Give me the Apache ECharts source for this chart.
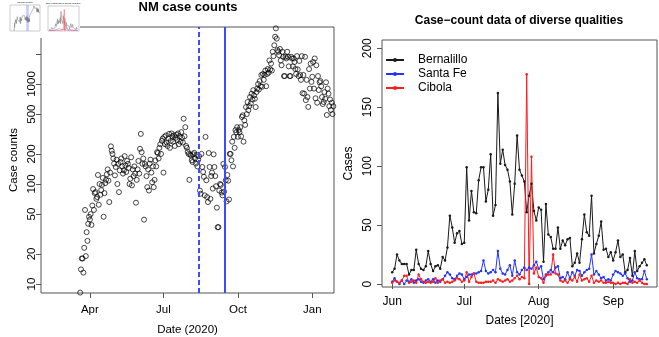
<!DOCTYPE html>
<html>
<head>
<meta charset="utf-8">
<script src="https://cdn.jsdelivr.net/npm/echarts@6/dist/echarts.min.js"></script>
<style>
html, body { margin: 0; padding: 0; background: #fff; }
#main { width: 659px; height: 337px; }
</style>
</head>
<body>
<div id="main"></div>
<script>
// NM statewide daily counts, one value per day from nmStart
var nmStart = '2020-03-20';
var nmCases = [
  8.2, 14, 18, 18, 13, 23, 55, 19, 33, 27, 40, 47,
  // Apr
  44, 50, 39, 61, 89, 55, 81, 83, 71, 74, 123, 62, 100, 78, 87, 98, 115, 47, 81, 102,
  110, 125, 140, 108, 66, 130, 238, 215, 200, 180,
  // May
  160, 122, 148, 175, 100, 159, 83, 137, 166, 180, 150, 127, 137, 190, 153, 132, 170, 159, 145, 100,
  113, 185, 97, 140, 120, 150, 127, 65, 110, 140, 170,
  // Jun
  127, 225, 317, 208, 159, 180, 44, 159, 150, 120, 93, 140, 86, 160, 175, 130, 104, 150, 93, 110,
  172, 150, 208, 204, 180, 230, 250, 200, 270, 284,
  // Jul
  130, 296, 250, 306, 260, 240, 284, 317, 230, 270, 320, 300, 265, 306, 240, 290, 310, 275, 320, 250,
  300, 265, 330, 290, 260, 450, 300, 370, 240, 230, 210,
  // Aug
  200, 110, 198, 192, 173, 166, 198, 205, 180, 160, 195, 150, 175, 190, 86, 80, 200, 148, 132, 118,
  77, 296, 109, 74, 66, 204, 148, 71, 120, 130, 90,
  // Sep
  198, 148, 120, 95, 58, 37, 37, 86, 100, 98, 82, 77, 159, 84, 148, 109, 67, 123, 108, 70,
  200, 200, 173, 265, 150, 296, 230, 346, 329, 370,
  // Oct
  296, 346, 329, 370, 300, 468, 486, 265, 433, 390, 588, 500, 659, 547, 600, 740, 640, 799, 700, 867,
  768, 712, 588, 830, 900, 1000, 880, 1069, 950, 1231, 939,
  // Nov
  1259, 1100, 1231, 1363, 950, 1259, 1410, 1300, 1720, 1400, 1600, 1363, 2100, 1900, 2440, 2970, 3600, 2840, 2180, 2100,
  1940, 2240, 1720, 1540, 2100, 1870, 1200, 1200, 1870, 1800,
  // Dec
  2100, 1870, 1500, 1200, 1200, 1870, 1800, 1500, 1800, 1660, 1410, 1260, 1900, 1400, 1200, 1700, 1230, 1100, 1900, 810,
  1230, 800, 1870, 690, 1100, 740, 590, 1410, 900, 1600, 1050,
  // Jan 2021
  1180, 1660, 900, 1800, 720, 1540, 650, 1200, 870, 1040, 1070, 950, 740, 630, 660, 830, 712, 1040, 490, 900,
  800, 600, 700, 550, 650, 500, 600
];
var nmDashedDate = '2020-08-14';
var nmSolidDate = '2020-09-15';
var nmYTicks = [10, 20, 50, 100, 200, 500, 1000, 2000];
var nmYLabels = [10, 20, 50, 100, 200, 500, 1000];
var nmXTicks = ['2020-04-01', '2020-07-01', '2020-10-01', '2021-01-01'];
var nmXLabels = ['Apr', 'Jul', 'Oct', 'Jan'];

// county daily counts, one value per day from countyStart
var countyStart = '2020-06-01';
var bernalillo = [
  10, 13, 25, 20, 17, 17, 17, 8, 12, 12,
  29, 17, 13, 12, 15, 28, 17, 11, 15, 16,
  13, 23, 20, 31, 58, 48, 35, 43, 45, 34,
  35, 99, 54, 79, 61, 60, 88, 99, 99, 70,
  80, 110, 58, 67, 162, 102, 114, 101, 97, 87,
  59, 85, 126, 97, 92, 87, 61, 75, 85, 62,
  54, 65, 63, 19, 68, 42, 40, 30, 30, 48,
  30, 37, 33, 38, 39, 15, 18, 26, 18, 38,
  59, 44, 41, 75, 26, 34, 41, 53, 29, 30,
  23, 27, 20, 27, 37, 23, 25, 10, 12, 22,
  7, 28, 11, 15, 18, 21, 16
];
var santaFe = [
  2, 5, 2, 0, 3, 0, 3, 2, 4, 1,
  3, 4, 2, 1, 3, 4, 2, 4, 1, 3,
  2, 4, 7, 10, 8, 5, 4, 7, 9, 8,
  4, 6, 8, 8, 9, 9, 10, 11, 20, 11,
  9, 10, 12, 10, 28, 13, 9, 8, 12, 16,
  7, 20, 10, 8, 12, 14, 12, 14, 13, 16,
  19, 13, 15, 4, 8, 10, 12, 10, 14, 15,
  5, 6, 4, 10, 5, 10, 7, 12, 11, 7,
  10, 12, 13, 25, 8, 11, 8, 5, 6, 3,
  4, 3, 8, 11, 10, 9, 7, 9, 5, 2,
  3, 10, 5, 4, 4, 11, 4
];
var cibola = [
  1, 3, 2, 1, 3, 7, 7, 1, 2, 3,
  1, 8, 4, 2, 1, 2, 1, 2, 5, 1,
  3, 4, 1, 2, 1, 2, 3, 5, 4, 2,
  3, 10, 2, 6, 9, 2, 1, 1, 1, 2,
  2, 2, 3, 1, 4, 3, 2, 3, 4, 2,
  3, 5, 7, 4, 6, 5, 178, 0, 108, 9,
  14, 6, 5, 1, 7, 8, 8, 25, 9, 8,
  3, 2, 3, 1, 4, 3, 6, 2, 8, 3,
  4, 5, 2, 7, 1, 3, 2, 3, 1, 1,
  2, 1, 1, 0, 1, 0, 1, 1, 0, 4,
  1, 2, 1, 3, 1, 0, 0
];
var countyXTicks = ['2020-06-01', '2020-07-01', '2020-08-01', '2020-09-01'];
var countyXLabels = ['Jun', 'Jul', 'Aug', 'Sep'];
var countyYTicks = [0, 50, 100, 150, 200];

var DAY = 86400000;
function toTime(s) { return Date.parse(s.length > 10 ? s : s + 'T00:00:00Z'); }
function daily(start, values) {
  var t0 = toTime(start);
  return values.map(function (v, i) { return [t0 + i * DAY, v]; });
}
function nearestLabel(ticks, labels) {
  var times = ticks.map(toTime);
  return function (v) {
    var best = 0;
    for (var i = 1; i < times.length; i++) {
      if (Math.abs(times[i] - v) < Math.abs(times[best] - v)) best = i;
    }
    return labels[best];
  };
}

var font = 'Liberation Sans, Arial, sans-serif';
var axisGrey = '#555';
var nmMin = 8.13, nmMax = 3715;
var nmRange = ['2020-01-31T14:00:00Z', '2021-01-27T20:00:00Z'];
var countyRange = ['2020-05-27T18:00:00Z', '2020-09-19T06:00:00Z'];

var nmData = daily(nmStart, nmCases);
var bData = daily(countyStart, bernalillo);
var sData = daily(countyStart, santaFe);
var cData = daily(countyStart, cibola);
var vLineColor = '#3b4cff';

var myChart = echarts.init(document.getElementById('main'), null, { renderer: 'canvas' });

var option = {
  animation: false,
  backgroundColor: '#fff',
  textStyle: { fontFamily: font },
  graphic: [
    { type: 'text', x: 188, y: 7, style: { text: 'NM case counts', align: 'center', verticalAlign: 'middle', font: 'bold 13px ' + font, fill: '#000' } },
    { type: 'text', x: 519, y: 21, style: { text: 'Case\u2212count data of diverse qualities', align: 'center', verticalAlign: 'middle', font: 'bold 12px ' + font, fill: '#000' } },
    // thumbnail backing and its tiny titles
    { type: 'rect', shape: { x: 0, y: 0, width: 80, height: 38 }, style: { fill: '#fff' }, z: 1 },
    { type: 'text', x: 25, y: 2, z: 5, style: { text: 'NM case counts', align: 'center', verticalAlign: 'middle', font: 'bold 2px ' + font, fill: '#444' } },
    { type: 'text', x: 63, y: 3, z: 5, style: { text: 'Case\u2212count data of diverse qualities', align: 'center', verticalAlign: 'middle', font: 'bold 2px ' + font, fill: '#444' } }
  ],
  legend: {
    orient: 'vertical',
    left: 380,
    top: 48,
    itemWidth: 18,
    itemHeight: 5,
    itemGap: 0,
    textStyle: { fontSize: 12, color: '#000', lineHeight: 14, padding: [0, 0, 0, 9] },
    data: ['Bernalillo', 'Santa Fe', 'Cibola']
  },
  grid: [
    { left: 41, top: 27, width: 293, height: 266, show: true, borderColor: axisGrey, borderWidth: 1, containLabel: false, outerBoundsMode: 'none' },
    { left: 382, top: 40, width: 275, height: 247, show: true, borderColor: axisGrey, borderWidth: 1, containLabel: false, outerBoundsMode: 'none' },
    { left: 10, top: 5, width: 30, height: 26, show: true, borderColor: '#999', borderWidth: 0.5, z: 3, outerBoundsMode: 'none' },
    { left: 48, top: 6, width: 31, height: 25, show: true, borderColor: '#999', borderWidth: 0.5, z: 3, outerBoundsMode: 'none' }
  ],
  xAxis: [
    {
      type: 'value', gridIndex: 0, min: toTime(nmRange[0]), max: toTime(nmRange[1]),
      axisLine: { show: false },
      axisTick: { show: true, length: 5, lineStyle: { color: axisGrey }, customValues: nmXTicks.map(toTime) },
      axisLabel: { customValues: nmXTicks.map(toTime), formatter: nearestLabel(nmXTicks, nmXLabels), fontSize: 11.5, color: '#000', margin: 11 },
      splitLine: { show: false },
      name: 'Date (2020)', nameLocation: 'middle', nameGap: 31,
      nameTextStyle: { fontSize: 11.5, color: '#000' }
    },
    {
      type: 'value', gridIndex: 1, min: toTime(countyRange[0]), max: toTime(countyRange[1]),
      axisLine: { show: false },
      axisTick: { show: true, length: 5, lineStyle: { color: axisGrey }, customValues: countyXTicks.map(toTime) },
      axisLabel: { customValues: countyXTicks.map(toTime), formatter: nearestLabel(countyXTicks, countyXLabels), fontSize: 12, color: '#000', margin: 9 },
      splitLine: { show: false },
      name: 'Dates [2020]', nameLocation: 'middle', nameGap: 28,
      nameTextStyle: { fontSize: 12, color: '#000' }
    },
    { type: 'value', gridIndex: 2, min: toTime(nmRange[0]), max: toTime(nmRange[1]), show: false, splitLine: { show: false } },
    { type: 'value', gridIndex: 3, min: toTime(countyRange[0]), max: toTime(countyRange[1]), show: false, splitLine: { show: false } }
  ],
  yAxis: [
    // log scale that places the NM points
    { type: 'log', gridIndex: 0, position: 'right', min: nmMin, max: nmMax, show: false, splitLine: { show: false } },
    // ruler for the NM ticks, in log10 units over the same span
    {
      type: 'value', gridIndex: 0, position: 'left',
      min: Math.log10(nmMin), max: Math.log10(nmMax),
      axisLine: { show: false },
      axisTick: { show: true, length: 5, lineStyle: { color: axisGrey }, customValues: nmYTicks.map(Math.log10) },
      axisLabel: {
        customValues: nmYLabels.map(Math.log10), rotate: 90, margin: 3, fontSize: 11.5, color: '#000',
        formatter: function (v) { return String(Math.round(Math.pow(10, v))); }
      },
      splitLine: { show: false },
      name: 'Case counts', nameLocation: 'middle', nameGap: 21,
      nameTextStyle: { fontSize: 11.5, color: '#000' }
    },
    {
      type: 'value', gridIndex: 1, min: -2.5, max: 207,
      axisLine: { show: false },
      axisTick: { show: true, length: 5, lineStyle: { color: axisGrey }, customValues: countyYTicks },
      axisLabel: { customValues: countyYTicks, rotate: 90, margin: 8, fontSize: 12, color: '#000' },
      splitLine: { show: false },
      name: 'Cases', nameLocation: 'middle', nameGap: 27,
      nameTextStyle: { fontSize: 12, color: '#000' }
    },
    { type: 'log', gridIndex: 2, min: nmMin, max: nmMax, show: false, splitLine: { show: false } },
    { type: 'value', gridIndex: 3, min: -2.5, max: 207, show: false, splitLine: { show: false } }
  ],
  series: [
    {
      name: 'NM',
      type: 'scatter',
      xAxisIndex: 0, yAxisIndex: 0,
      symbol: 'circle', symbolSize: 5,
      itemStyle: { color: 'rgba(0,0,0,0)', borderColor: '#000', borderWidth: 0.9 },
      data: nmData,
      markLine: {
        silent: true, symbol: ['none', 'none'], label: { show: false },
        data: [
          { xAxis: toTime(nmDashedDate), lineStyle: { color: vLineColor, width: 2, type: [5, 3] } },
          { xAxis: toTime(nmSolidDate), lineStyle: { color: vLineColor, width: 2, type: 'solid' } }
        ]
      }
    },
    {
      name: 'Bernalillo', type: 'line', xAxisIndex: 1, yAxisIndex: 2,
      symbol: 'circle', symbolSize: 2.5, showAllSymbol: true,
      color: '#1a1a1a', lineStyle: { width: 1, color: '#1a1a1a' },
      data: bData
    },
    {
      name: 'Santa Fe', type: 'line', xAxisIndex: 1, yAxisIndex: 2,
      symbol: 'circle', symbolSize: 2.5, showAllSymbol: true,
      color: '#2233ff', lineStyle: { width: 1, color: '#2233ff' },
      data: sData
    },
    {
      name: 'Cibola', type: 'line', xAxisIndex: 1, yAxisIndex: 2,
      symbol: 'circle', symbolSize: 2.5, showAllSymbol: true,
      color: '#ff1a1a', lineStyle: { width: 1, color: '#ff1a1a' },
      data: cData
    },
    // thumbnail copies
    {
      name: 'mini NM', type: 'line', xAxisIndex: 2, yAxisIndex: 3, z: 4,
      symbol: 'none', lineStyle: { width: 0.5, color: '#777' }, data: nmData,
      markArea: {
        silent: true, itemStyle: { color: 'rgba(90,110,255,0.35)' },
        data: [[{ xAxis: toTime(nmDashedDate) }, { xAxis: toTime(nmSolidDate) }]]
      }
    },
    { name: 'mini B', type: 'line', xAxisIndex: 3, yAxisIndex: 4, z: 4, symbol: 'none', lineStyle: { width: 0.5, color: '#777' }, data: bData },
    { name: 'mini S', type: 'line', xAxisIndex: 3, yAxisIndex: 4, z: 4, symbol: 'none', lineStyle: { width: 0.5, color: '#6677ff' }, data: sData },
    { name: 'mini C', type: 'line', xAxisIndex: 3, yAxisIndex: 4, z: 4, symbol: 'none', lineStyle: { width: 0.5, color: '#ff5555' }, data: cData }
  ]
};

myChart.setOption(option);
</script>
</body>
</html>
